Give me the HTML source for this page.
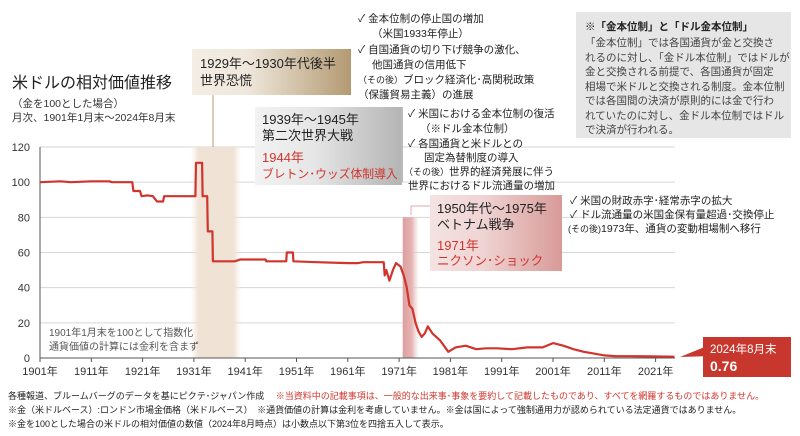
<!DOCTYPE html>
<html><head><meta charset="utf-8">
<style>
html,body{margin:0;padding:0;background:#fff;}
svg{display:block;font-family:"Liberation Sans","Noto Sans CJK JP",sans-serif;}
</style></head>
<body>
<svg id="chart" width="800" height="436" viewBox="0 0 800 436" xmlns="http://www.w3.org/2000/svg">
<defs>
<linearGradient id="gDep" x1="0" x2="1"><stop offset="0" stop-color="#f3ede4"/><stop offset="0.35" stop-color="#efe7db"/><stop offset="1" stop-color="#b39a72"/></linearGradient>
<linearGradient id="gWar" x1="0" x2="1"><stop offset="0" stop-color="#f2f2f2"/><stop offset="0.4" stop-color="#e6e6e6"/><stop offset="1" stop-color="#b4b4b4"/></linearGradient>
<linearGradient id="gViet" x1="0" x2="1"><stop offset="0" stop-color="#f4e3e2"/><stop offset="0.4" stop-color="#efd4d3"/><stop offset="1" stop-color="#d89a98"/></linearGradient>
<linearGradient id="gBand1" x1="0" x2="1"><stop offset="0" stop-color="#f3e6dc" stop-opacity="0"/><stop offset="0.15" stop-color="#f1e2d6"/><stop offset="0.85" stop-color="#f1e2d6"/><stop offset="1" stop-color="#f3e6dc" stop-opacity="0"/></linearGradient>
<linearGradient id="gBand2" x1="0" x2="1"><stop offset="0" stop-color="#dc9f9e"/><stop offset="0.6" stop-color="#e5b5b4"/><stop offset="1" stop-color="#f3dcdc" stop-opacity="0.3"/></linearGradient>
</defs>

<g id="grid"></g>
<g id="bands"></g>
<g id="axes"></g>
<g id="series"></g>

<text x="12" y="88" font-size="16" fill="#222">米ドルの相対価値推移</text>
<text x="12" y="107" font-size="10.5" fill="#333">（金を100とした場合）</text>
<text x="12" y="121" font-size="10.5" fill="#333">月次、1901年1月末～2024年8月末</text>

<line x1="213" y1="95" x2="213" y2="147" stroke="#b39a72" stroke-width="1"/>
<g>
<rect x="192" y="49" width="159" height="46" fill="url(#gDep)"/>
<text x="200" y="68" font-size="13" fill="#222">1929年～1930年代後半</text>
<text x="200" y="85" font-size="13" fill="#222">世界恐慌</text>
</g>

<g font-size="10.5" fill="#222">
<text x="358" y="22">✓  金本位制の停止国の増加</text>
<text x="372" y="37">（米国1933年停止）</text>
<text x="358" y="53">✓  自国通貨の切り下げ競争の激化、</text>
<text x="372" y="68">他国通貨の信用低下</text>
<text x="358" y="83"><tspan font-size="9">（その後）</tspan>ブロック経済化･高関税政策</text>
<text x="358" y="98">（保護貿易主義）の進展</text>
</g>

<g>
<rect x="255" y="107" width="147" height="78" fill="url(#gWar)"/>
<text x="262" y="124" font-size="13" fill="#222">1939年～1945年</text>
<text x="262" y="140" font-size="13" fill="#222">第二次世界大戦</text>
<text x="262" y="162" font-size="13" fill="#d0342c">1944年</text>
<text x="262" y="178" font-size="11.8" fill="#d0342c">ブレトン･ウッズ体制導入</text>
</g>
<line x1="402" y1="107" x2="402" y2="182" stroke="#bbb" stroke-width="2"/>
<g font-size="10.5" fill="#222">
<text x="408" y="117">✓ 米国における金本位制の復活</text>
<text x="420" y="132">（※ドル金本位制）</text>
<text x="408" y="147">✓ 各国通貨と米ドルとの</text>
<text x="424" y="161">固定為替制度の導入</text>
<text x="404" y="175"><tspan font-size="9">（その後）</tspan>世界的経済発展に伴う</text>
<text x="408" y="189">世界におけるドル流通量の増加</text>
</g>

<polyline points="411,215 411,206 430,206" fill="none" stroke="#e0a8a8" stroke-width="1"/>
<g>
<rect x="430" y="195" width="132" height="76" fill="url(#gViet)"/>
<text x="437" y="213" font-size="13" fill="#222">1950年代～1975年</text>
<text x="437" y="229" font-size="13" fill="#222">ベトナム戦争</text>
<text x="437" y="250" font-size="13" fill="#d0342c">1971年</text>
<text x="437" y="265" font-size="12.5" fill="#d0342c">ニクソン･ショック</text>
</g>
<g font-size="10.5" fill="#222">
<text x="570" y="204">✓ 米国の財政赤字･経常赤字の拡大</text>
<text x="570" y="218">✓ ドル流通量の米国金保有量超過･交換停止</text>
<text x="568" y="232"><tspan font-size="9">(その後)</tspan>1973年、通貨の変動相場制へ移行</text>
</g>

<g>
<rect x="576" y="12" width="215" height="126" fill="#e6e6e6"/>
<text x="585" y="30" font-size="10.5" font-weight="bold" fill="#222">※「金本位制」と「ドル金本位制」</text>
<g font-size="10.5" fill="#444">
<text x="585" y="46">「金本位制」では各国通貨が金と交換さ</text>
<text x="585" y="61">れるのに対し、「金ドル本位制」ではドルが</text>
<text x="585" y="75">金と交換される前提で、各国通貨が固定</text>
<text x="585" y="90">相場で米ドルと交換される制度。金本位制</text>
<text x="585" y="104">では各国間の決済が原則的には金で行わ</text>
<text x="585" y="119">れていたのに対し、金ドル本位制ではドル</text>
<text x="585" y="133">で決済が行われる。</text>
</g>
</g>

<text x="49" y="336" font-size="10" fill="#555">1901年1月末を100として指数化</text>
<text x="49" y="350" font-size="10" fill="#555">通貨価値の計算には金利を含まず</text>

<g>
<polygon points="680,357 712,344 712,356" fill="#c8372d"/>
<rect x="703" y="337" width="88" height="40" fill="#c8372d"/>
<text x="710" y="353" font-size="11.5" fill="#fff">2024年8月末</text>
<text x="710" y="371" font-size="14" font-weight="bold" fill="#fff">0.76</text>
</g>

<g font-size="9" fill="#222">
<text x="8" y="399">各種報道、ブルームバーグのデータを基にピクテ･ジャパン作成 <tspan fill="#d0342c">　※当資料中の記載事項は、一般的な出来事･事象を要約して記載したものであり、すべてを網羅するものではありません。</tspan></text>
<text x="8" y="413">※金（米ドルベース）:ロンドン市場金価格（米ドルベース）　※通貨価値の計算は金利を考慮していません。※金は国によって強制通用力が認められている法定通貨ではありません。</text>
<text x="8" y="427">※金を100とした場合の米ドルの相対価値の数値（2024年8月時点）は小数点以下第3位を四捨五入して表示。</text>
</g>

<script>
const yTicks = [0, 20, 40, 60, 80, 100, 120];
const xTickYears = [1901, 1911, 1921, 1931, 1941, 1951, 1961, 1971, 1981, 1991, 2001, 2011, 2021];
const years = [1901,1905,1907,1911,1914.5,1915,1919,1919.2,1920.5,1920.8,1922,1923,1923.8,1925,1925.2,1931.3,1931.4,1932.6,1932.7,1933.6,1933.7,1934.6,1934.7,1939,1940,1945,1945.1,1949,1949.1,1950.3,1950.4,1955,1961,1963,1964,1968,1968.2,1968.5,1969.1,1969.8,1970.4,1971.3,1972,1972.5,1973,1973.6,1974.2,1974.8,1975.4,1976,1976.6,1977.5,1979,1980.6,1982,1984,1986,1988,1990,1993,1996,1999,2001,2003,2005,2007,2009,2011,2013,2016,2020,2024.67];
const values = [100,100.5,100,100.5,100.5,100,100,95,95,92,92.5,92,89,89,92,92,111,111,92,92,72,72,55,55,56,56,55,55,60,60,55,54.5,54,54,54.5,54.5,47,50,44,50,54,52,46,40,30,28,20,15,12,14,18,14,10,3.5,6,7,5,5.5,5.5,5,6,6,8.5,7,5,3.5,2.5,1.5,1.1,1,0.9,0.76];

const NS = 'http://www.w3.org/2000/svg';
const X0 = 40, Y0 = 358;
const xScale = yr => X0 + (yr - 1901) * 5.13;
const yScale = v => Y0 - v * (211 / 120);
function mk(tag, attrs, parent){const e=document.createElementNS(NS,tag);for(const k in attrs)e.setAttribute(k,attrs[k]);parent.appendChild(e);return e;}

const grid = document.getElementById('grid');
const axes = document.getElementById('axes');
yTicks.forEach(t=>{
  if(t>0){const l=mk('line',{x1:X0,x2:675,y1:yScale(t),y2:yScale(t),stroke:'#d6d6d6','stroke-width':1},grid);
  
  }
  const tx=mk('text',{x:30,y:yScale(t)+4,'font-size':11,fill:'#333','text-anchor':'end'},axes);
  tx.textContent=t;
  
  
});

const bands = document.getElementById('bands');
const b1 = mk('rect',{x:xScale(1930.4),y:yScale(120),width:xScale(1940.2)-xScale(1930.4),height:Y0-yScale(120),fill:'url(#gBand1)'},bands);


const b2 = mk('rect',{x:xScale(1971.7),y:yScale(80),width:xScale(1974.7)-xScale(1971.7),height:Y0-yScale(80),fill:'url(#gBand2)'},bands);



const ax = mk('line',{x1:X0,x2:X0,y1:yScale(120),y2:Y0,stroke:'#555','stroke-width':1},axes);


const bx = mk('line',{x1:X0,x2:675,y1:Y0,y2:Y0,stroke:'#555','stroke-width':1},axes);


xTickYears.forEach(y=>{
  const tk=mk('line',{x1:xScale(y),x2:xScale(y),y1:Y0,y2:Y0+4,stroke:'#555'},axes);
  
  
  const tx=mk('text',{x:xScale(y),y:375,'font-size':11,fill:'#333','text-anchor':'middle'},axes);
  tx.textContent=y+'年';
  
  
});

const pts = years.map((y,i)=>xScale(y).toFixed(1)+','+yScale(values[i]).toFixed(1)).join(' ');
const line = mk('polyline',{points:pts,fill:'none',stroke:'#d0342c','stroke-width':2.2,'stroke-linejoin':'round'},document.getElementById('series'));


</script>
</svg>
</body></html>
